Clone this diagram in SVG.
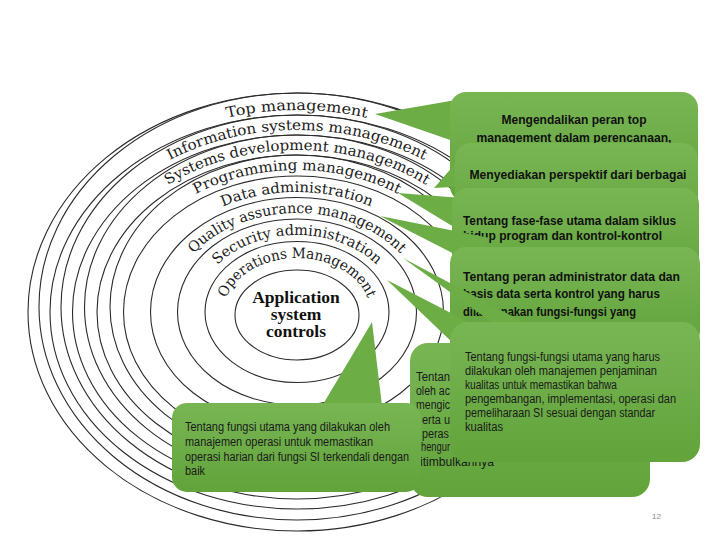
<svg xmlns="http://www.w3.org/2000/svg" width="720" height="540" viewBox="0 0 720 540">
<defs>
<linearGradient id="g" x1="0" y1="0" x2="0" y2="1">
<stop offset="0" stop-color="#78b654"/>
<stop offset="1" stop-color="#62a33b"/>
</linearGradient>
<path id="p1" d="M 44 312 A 253 202 0 0 1 550 312"/>
<path id="p2" d="M 66 312 A 231 182 0 0 1 528 312"/>
<path id="p3" d="M 89 312 A 208 162 0 0 1 505 312"/>
<path id="p4" d="M 115 312 A 182 142 0 0 1 479 312"/>
<path id="p5" d="M 142 312 A 155 120 0 0 1 452 312"/>
<path id="p6" d="M 169 312 A 128 99 0 0 1 425 312"/>
<path id="p7" d="M 196 312 A 101 77 0 0 1 398 312"/>
<path id="p8" d="M 224 312 A 73 54 0 0 1 370 312"/>
</defs>
<style>
.ring{fill:none;stroke:#2b2b2b;stroke-width:1.1}
.lbl{font-family:"DejaVu Serif","Liberation Serif",serif;font-size:14.5px;fill:#1c1c1c}
.core{font-family:"Liberation Serif",serif;font-weight:bold;font-size:17.5px;fill:#111}
.box{fill:url(#g)}
.tail{fill:#6cad46}
.tb{font-family:"Liberation Sans",Arial,sans-serif;font-weight:bold;font-size:13.5px;fill:#111}
.tr{font-family:"Liberation Sans",Arial,sans-serif;font-size:12px;fill:#1a1a1a}
.pg{font-family:"Liberation Sans",Arial,sans-serif;font-size:8px;fill:#8a8a8a}
</style>
<rect width="720" height="540" fill="#ffffff"/>

<g id="rings">
<ellipse class="ring" cx="297" cy="312" rx="269" ry="219"/>
<ellipse class="ring" cx="297" cy="306.5" rx="258" ry="213.5"/>
<ellipse class="ring" cx="297" cy="312" rx="247" ry="197"/>
<ellipse class="ring" cx="297" cy="307" rx="236" ry="192"/>
<ellipse class="ring" cx="297" cy="312" rx="224.5" ry="177"/>
<ellipse class="ring" cx="297" cy="307" rx="212.5" ry="172"/>
<ellipse class="ring" cx="297" cy="312" rx="200" ry="157"/>
<ellipse class="ring" cx="297" cy="306.75" rx="187" ry="151.75"/>
<ellipse class="ring" cx="297" cy="312" rx="173.5" ry="136"/>
<ellipse class="ring" cx="297" cy="312" rx="146.5" ry="114.5"/>
<ellipse class="ring" cx="297" cy="312" rx="119.5" ry="93"/>
<ellipse class="ring" cx="297" cy="312" rx="92" ry="70.5"/>
</g>
<g id="labels">
<text class="lbl" text-anchor="middle" textLength="141" lengthAdjust="spacingAndGlyphs"><textPath href="#p1" startOffset="50%">Top management</textPath></text>
<text class="lbl" text-anchor="middle" textLength="264" lengthAdjust="spacingAndGlyphs"><textPath href="#p2" startOffset="50%">Information systems management</textPath></text>
<text class="lbl" text-anchor="middle" textLength="271" lengthAdjust="spacingAndGlyphs"><textPath href="#p3" startOffset="50%">Systems development management</textPath></text>
<text class="lbl" text-anchor="middle" textLength="210" lengthAdjust="spacingAndGlyphs"><textPath href="#p4" startOffset="50%">Programming management</textPath></text>
<text class="lbl" text-anchor="middle" textLength="152" lengthAdjust="spacingAndGlyphs"><textPath href="#p5" startOffset="50%">Data administration</textPath></text>
<text class="lbl" text-anchor="middle" textLength="228" lengthAdjust="spacingAndGlyphs"><textPath href="#p6" startOffset="50%">Quality assurance management</textPath></text>
<text class="lbl" text-anchor="middle" textLength="174" lengthAdjust="spacingAndGlyphs"><textPath href="#p7" startOffset="50%">Security administration</textPath></text>
<text class="lbl" text-anchor="middle" textLength="172" lengthAdjust="spacingAndGlyphs"><textPath href="#p8" startOffset="50%">Operations Management</textPath></text>
</g>
<g id="core">
<ellipse class="ring" cx="297" cy="315" rx="62" ry="45"/>
<text class="core" x="296" y="303" text-anchor="middle">Application</text>
<text class="core" x="296" y="320" text-anchor="middle">system</text>
<text class="core" x="296" y="337" text-anchor="middle">controls</text>
</g>

<g id="callout-top">
<polygon class="tail" points="375,114 456,100 456,142"/>
<rect class="box" x="450" y="92" width="248" height="110" rx="16"/>
<text class="tb" x="574" y="124" text-anchor="middle" textLength="145" lengthAdjust="spacingAndGlyphs">Mengendalikan peran top</text>
<text class="tb" x="574" y="142" text-anchor="middle" textLength="195" lengthAdjust="spacingAndGlyphs">management dalam perencanaan,</text>
</g>
<g id="callout-ism">
<polygon class="tail" points="434,188 462,156 472,186"/>
<rect class="box" x="455" y="143" width="243" height="100" rx="16"/>
<text class="tb" x="578" y="179" text-anchor="middle" textLength="217" lengthAdjust="spacingAndGlyphs">Menyediakan perspektif dari berbagai</text>
</g>
<g id="callout-prog">
<polygon class="tail" points="398,193 462,198 462,232"/>
<rect class="box" x="452" y="188" width="247" height="100" rx="16"/>
<text class="tb" x="463" y="225" textLength="213" lengthAdjust="spacingAndGlyphs">Tentang fase-fase utama dalam siklus</text>
<text class="tb" x="463" y="240" textLength="199" lengthAdjust="spacingAndGlyphs">hidup program dan kontrol-kontrol</text>
</g>
<g id="callout-data">
<polygon class="tail" points="380,216 490,238 470,262"/>
<rect class="box" x="450" y="247" width="250" height="100" rx="16"/>
<text class="tb" x="463" y="281" textLength="217" lengthAdjust="spacingAndGlyphs">Tentang peran administrator data dan</text>
<text class="tb" x="463" y="298" textLength="197" lengthAdjust="spacingAndGlyphs">basis data serta kontrol yang harus</text>
<text class="tb" x="463" y="316" textLength="173" lengthAdjust="spacingAndGlyphs">dilaksanakan fungsi-fungsi yang</text>
</g>
<g id="callout-security">
<polygon class="tail" points="403,258 540,331 530,350"/>
<rect class="box" x="410" y="343" width="240" height="154" rx="18"/>
<text class="tr" x="416" y="381" textLength="34" lengthAdjust="spacingAndGlyphs">Tentan</text>
<text class="tr" x="416" y="395" textLength="34" lengthAdjust="spacingAndGlyphs">oleh ac</text>
<text class="tr" x="416" y="409" textLength="34" lengthAdjust="spacingAndGlyphs">mengic</text>
<text class="tr" x="422" y="424" textLength="28" lengthAdjust="spacingAndGlyphs">erta u</text>
<text class="tr" x="422" y="438" textLength="27" lengthAdjust="spacingAndGlyphs">peras</text>
<text class="tr" x="421" y="451" textLength="29" lengthAdjust="spacingAndGlyphs">hengur</text>
<text class="tr" x="420" y="466" textLength="74" lengthAdjust="spacingAndGlyphs">itimbulkannya</text>
</g>
<g id="callout-qa">
<polygon class="tail" points="387,280 476,326 455,345"/>
<rect class="box" x="450" y="322" width="250" height="140" rx="18"/>
<text class="tr" x="465" y="361" textLength="195" lengthAdjust="spacingAndGlyphs">Tentang fungsi-fungsi utama yang harus</text>
<text class="tr" x="465" y="375" textLength="192" lengthAdjust="spacingAndGlyphs">dilakukan oleh manajemen penjaminan</text>
<text class="tr" x="465" y="389" textLength="152" lengthAdjust="spacingAndGlyphs">kualitas untuk memastikan bahwa</text>
<text class="tr" x="465" y="403" textLength="211" lengthAdjust="spacingAndGlyphs">pengembangan, implementasi, operasi dan</text>
<text class="tr" x="465" y="417" textLength="190" lengthAdjust="spacingAndGlyphs">pemeliharaan SI sesuai dengan standar</text>
<text class="tr" x="465" y="431" textLength="38" lengthAdjust="spacingAndGlyphs">kualitas</text>
</g>
<g id="callout-ops">
<polygon class="tail" points="372,322 322,406 382,406"/>
<rect class="box" x="172" y="403" width="249" height="89" rx="15"/>
<text class="tr" x="185" y="431" textLength="205" lengthAdjust="spacingAndGlyphs">Tentang fungsi utama yang dilakukan oleh</text>
<text class="tr" x="185" y="446" textLength="188" lengthAdjust="spacingAndGlyphs">manajemen operasi untuk memastikan</text>
<text class="tr" x="185" y="461" textLength="224" lengthAdjust="spacingAndGlyphs">operasi harian dari fungsi SI terkendali dengan</text>
<text class="tr" x="185" y="475" textLength="20" lengthAdjust="spacingAndGlyphs">baik</text>
</g>
<text class="pg" x="652" y="519">12</text>
</svg>
